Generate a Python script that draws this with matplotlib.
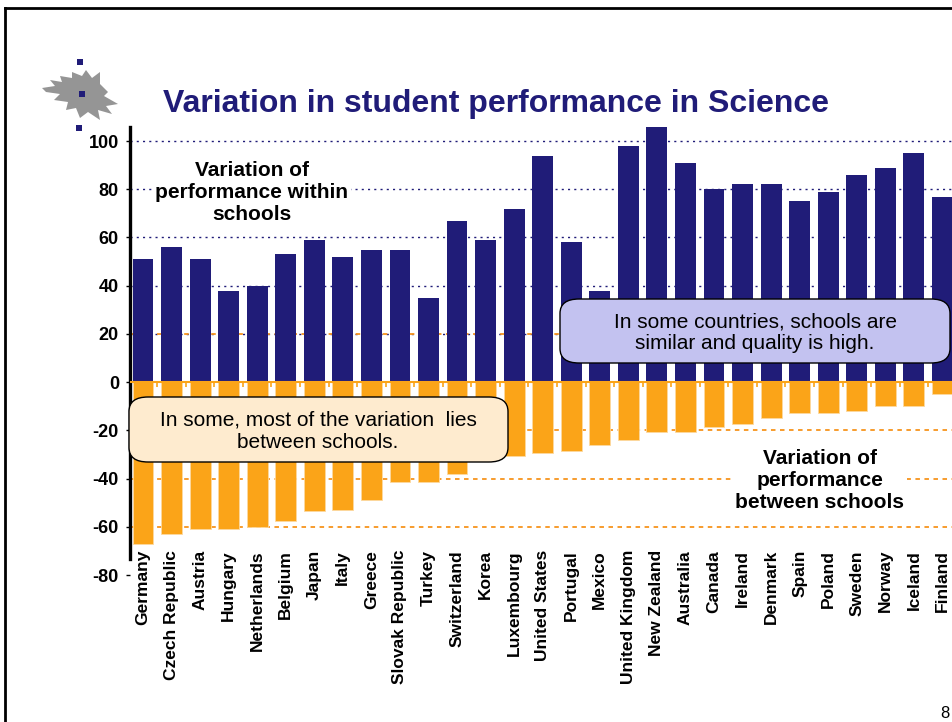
import matplotlib
matplotlib.use("Agg")
import numpy as np
from matplotlib import pyplot as plt
from matplotlib.patches import FancyBboxPatch, Polygon, Rectangle
from matplotlib.lines import Line2D

plt.rcParams['font.family'] = ['Liberation Sans', 'DejaVu Sans']

# PISA science: variance within / between schools
countries = ["Germany", "Czech Republic", "Austria", "Hungary", "Netherlands",
             "Belgium", "Japan", "Italy", "Greece", "Slovak Republic", "Turkey",
             "Switzerland", "Korea", "Luxembourg", "United States", "Portugal",
             "Mexico", "United Kingdom", "New Zealand", "Australia", "Canada",
             "Ireland", "Denmark", "Spain", "Poland", "Sweden", "Norway",
             "Iceland", "Finland"]
within = [51, 56, 51, 38, 40, 53, 59, 52, 55, 55, 35, 67, 59, 72, 94, 58,
          38, 98, 108, 91, 80, 82, 82, 75, 79, 86, 89, 95, 77]
between = [-67, -63, -61, -61, -60, -57.5, -53.5, -53, -49, -41.5, -41.5, -38,
           -32, -30.5, -29.5, -28.5, -26, -24, -20.5, -20.5, -18.5, -17.5,
           -15, -13, -12.8, -12, -10, -10, -5]
yticks = [100, 80, 60, 40, 20, 0, -20, -40, -60, -80]

NAVY = "#201c78"
ORANGE = "#fba418"
GRID_OR = "#f7941d"

W, H = 953, 722
fig = plt.figure(figsize=(W / 100, H / 100), dpi=100)


def fx(x):
    return x / W


def fy(y):
    return 1 - y / H


ax = fig.add_axes([fx(130), fy(575), 1 - fx(130), fy(126.6) - fy(575)])
x = np.arange(len(countries))

# gridlines
for v in [100, 80, 60, 40, 20]:
    ax.axhline(v, color=NAVY, lw=1, ls=(0, (1.5, 3)), zorder=0)
for v in [20, -20, -40, -60]:
    ax.axhline(v, color=GRID_OR, lw=1.3, ls=(0, (2.5, 2.5)), zorder=0.5)

ax.bar(x, within, width=0.73, color=NAVY, zorder=2)
ax.bar(x, between, width=0.73, color=ORANGE, edgecolor="#fcd9a0", lw=0.6, zorder=2)
ax.axhline(0, color=ORANGE, lw=1.5, zorder=3)
ax.vlines(x[:-1] + 0.5, -2.2, 0, color=ORANGE, lw=1.2, zorder=3)

ax.set_xlim(-0.455, 28.37)
ax.set_ylim(-80, 106)
ax.set_yticks(yticks)
ax.set_yticklabels([str(v) for v in yticks], fontsize=13, fontweight="bold")
ax.tick_params(axis="y", length=3, width=1, pad=5)
ax.set_xticks(x)
ax.set_xticklabels(countries, rotation=90, fontsize=12.5, fontweight="bold")
ax.tick_params(axis="x", length=0, pad=-18)
for s in ["top", "right", "bottom"]:
    ax.spines[s].set_visible(False)
ax.spines["left"].set_linewidth(2.4)
ax.spines["left"].set_bounds(-73.5, 106)
ax.patch.set_alpha(0)

# annotations
fig.text(fx(252), fy(192), "Variation of\nperformance within\nschools", ha="center",
         va="center", fontsize=15, fontweight="bold", linespacing=1.2,
         bbox=dict(facecolor="white", edgecolor="none", pad=2), zorder=3)
fig.text(fx(820), fy(480), "Variation of\nperformance\nbetween schools", ha="center",
         va="center", fontsize=15, fontweight="bold", linespacing=1.2,
         bbox=dict(facecolor="white", edgecolor="none", pad=2), zorder=3)

b1 = FancyBboxPatch((fx(129), fy(462)), fx(508) - fx(129), fy(397) - fy(462),
                    boxstyle="round,pad=0,rounding_size=0.02", transform=fig.transFigure,
                    facecolor="#feebcf", edgecolor="black", lw=1, zorder=4)
fig.add_artist(b1)
fig.text(fx(318), fy(431), "In some, most of the variation  lies\nbetween schools.",
         ha="center", va="center", fontsize=15, linespacing=1.2, zorder=5)

b2 = FancyBboxPatch((fx(560), fy(363)), fx(950) - fx(560), fy(299) - fy(363),
                    boxstyle="round,pad=0,rounding_size=0.02", transform=fig.transFigure,
                    facecolor="#c3c2f0", edgecolor="black", lw=1, zorder=4)
fig.add_artist(b2)
fig.text(fx(755), fy(333), "In some countries, schools are\nsimilar and quality is high.",
         ha="center", va="center", fontsize=15, linespacing=1.2, zorder=5)

# title
fig.text(fx(163), fy(112), "Variation in student performance in Science", ha="left",
         va="baseline", fontsize=23, fontweight="bold", color=NAVY)

# logo
flame = [(42, 88), (55, 86), (50, 80), (62, 82), (60, 76), (72, 78), (72, 72),
         (82, 76), (86, 70), (92, 78), (100, 72), (100, 84), (108, 92), (104, 96),
         (118, 104), (106, 106), (112, 114), (98, 110), (100, 120), (88, 112),
         (80, 118), (76, 108), (66, 110), (68, 102), (54, 100), (60, 94), (46, 92)]
fig.add_artist(Polygon([(fx(a), fy(b)) for a, b in flame], closed=True,
                       transform=fig.transFigure, facecolor="#959595", edgecolor="none"))
for sx, sy in [(80, 62), (82, 94), (79, 128)]:
    fig.add_artist(Rectangle((fx(sx - 3), fy(sy + 3)), fx(6), 6 / H,
                             transform=fig.transFigure, facecolor=NAVY, edgecolor="none"))

# slide border
fig.add_artist(Line2D([fx(5), 1], [fy(8), fy(8)], transform=fig.transFigure,
                      color="black", lw=2))
fig.add_artist(Line2D([fx(5), fx(5)], [fy(8), 0], transform=fig.transFigure,
                      color="black", lw=2))
fig.text(fx(945), fy(713), "8", ha="center", va="center", fontsize=12)

fig.savefig("out.png", dpi=100)
